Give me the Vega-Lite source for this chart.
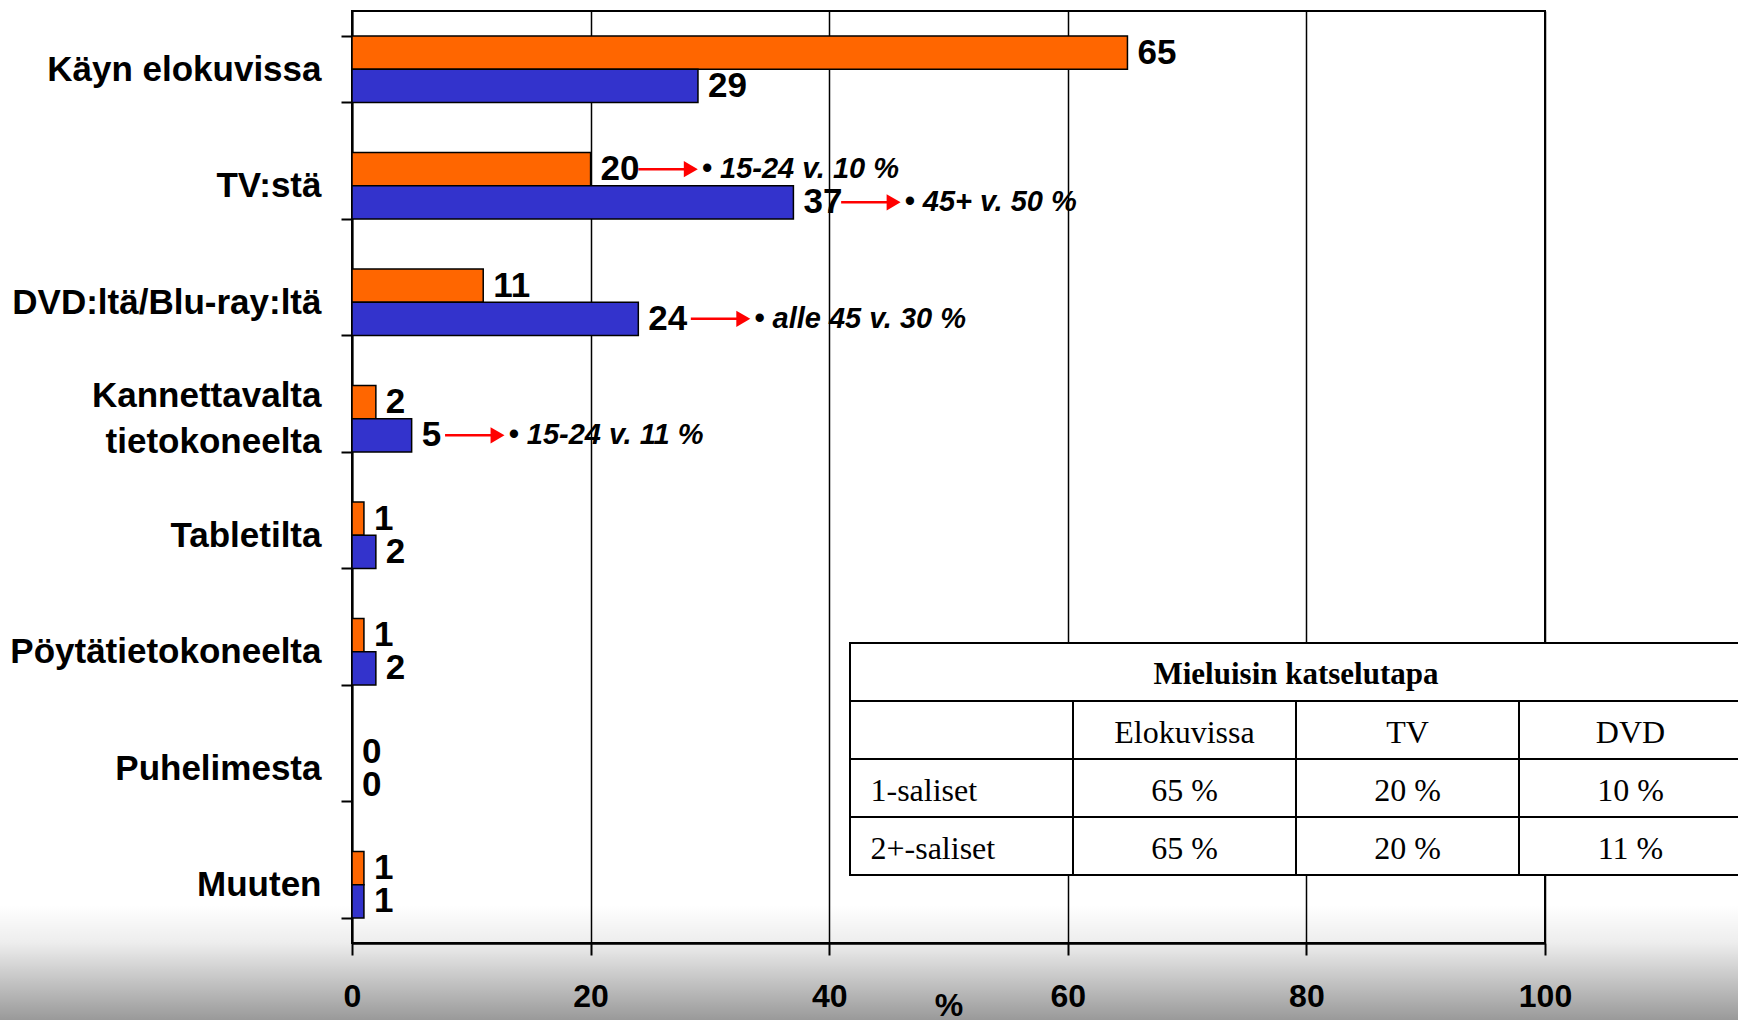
{
  "$schema": "https://vega.github.io/schema/vega-lite/v6.json",
  "width": 1193,
  "height": 932,
  "autosize": {"type": "none"},
  "padding": {"left": 352, "top": 11, "right": 193, "bottom": 77},
  "background": "white",
  "config": {
    "view": {"stroke": "black", "strokeWidth": 2},
    "font": "Liberation Sans"
  },
  "datasets": {
    "pylvaat": [
      {"kategoria": "Käyn elokuvissa", "sarja": "A", "arvo": 65},
      {"kategoria": "Käyn elokuvissa", "sarja": "B", "arvo": 29},
      {"kategoria": "TV:stä", "sarja": "A", "arvo": 20},
      {"kategoria": "TV:stä", "sarja": "B", "arvo": 37},
      {"kategoria": "DVD:ltä/Blu-ray:ltä", "sarja": "A", "arvo": 11},
      {"kategoria": "DVD:ltä/Blu-ray:ltä", "sarja": "B", "arvo": 24},
      {"kategoria": "Kannettavalta tietokoneelta", "sarja": "A", "arvo": 2},
      {"kategoria": "Kannettavalta tietokoneelta", "sarja": "B", "arvo": 5},
      {"kategoria": "Tabletilta", "sarja": "A", "arvo": 1},
      {"kategoria": "Tabletilta", "sarja": "B", "arvo": 2},
      {"kategoria": "Pöytätietokoneelta", "sarja": "A", "arvo": 1},
      {"kategoria": "Pöytätietokoneelta", "sarja": "B", "arvo": 2},
      {"kategoria": "Puhelimesta", "sarja": "A", "arvo": 0},
      {"kategoria": "Puhelimesta", "sarja": "B", "arvo": 0},
      {"kategoria": "Muuten", "sarja": "A", "arvo": 1},
      {"kategoria": "Muuten", "sarja": "B", "arvo": 1}
    ],
    "huomiot": [
      {"kategoria": "TV:stä", "sarja": "A", "alku": 24.0, "loppu": 28.4, "teksti": "• 15-24 v. 10 %"},
      {"kategoria": "TV:stä", "sarja": "B", "alku": 41.0, "loppu": 45.4, "teksti": "• 45+ v. 50 %"},
      {"kategoria": "DVD:ltä/Blu-ray:ltä", "sarja": "B", "alku": 28.4, "loppu": 32.8, "teksti": "• alle 45 v. 30 %"},
      {"kategoria": "Kannettavalta tietokoneelta", "sarja": "B", "alku": 7.8, "loppu": 12.2, "teksti": "• 15-24 v. 11 %"}
    ],
    "taulukko": [
      {"rivi": 1, "sarake": 0, "teksti": ""},
      {"rivi": 1, "sarake": 1, "teksti": "Elokuvissa"},
      {"rivi": 1, "sarake": 2, "teksti": "TV"},
      {"rivi": 1, "sarake": 3, "teksti": "DVD"},
      {"rivi": 2, "sarake": 0, "teksti": "1-saliset"},
      {"rivi": 2, "sarake": 1, "teksti": "65 %"},
      {"rivi": 2, "sarake": 2, "teksti": "20 %"},
      {"rivi": 2, "sarake": 3, "teksti": "10 %"},
      {"rivi": 3, "sarake": 0, "teksti": "2+-saliset"},
      {"rivi": 3, "sarake": 1, "teksti": "65 %"},
      {"rivi": 3, "sarake": 2, "teksti": "20 %"},
      {"rivi": 3, "sarake": 3, "teksti": "11 %"}
    ]
  },
  "layer": [
    {
      "data": {"values": [{}]},
      "mark": {
        "type": "rect",
        "fill": {
          "gradient": "linear", "x1": 0, "y1": 0, "x2": 0, "y2": 1,
          "stops": [
            {"offset": 0, "color": "rgba(0,0,0,0)"},
            {"offset": 0.29, "color": "rgba(0,0,0,0.07)"},
            {"offset": 0.88, "color": "rgba(0,0,0,0.4)"},
            {"offset": 1, "color": "rgba(0,0,0,0.45)"}
          ]
        }
      },
      "encoding": {
        "x": {"datum": -1, "type": "quantitative", "scale": {"domain": [0, 1]}, "axis": null},
        "x2": {"datum": 2},
        "y": {"datum": 0.041, "type": "quantitative", "scale": {"domain": [0, 1]}, "axis": null},
        "y2": {"datum": -0.1}
      }
    },
    {
      "data": {"name": "pylvaat"},
      "layer": [
        {
          "mark": {"type": "bar", "stroke": "black", "strokeWidth": 1.5},
          "encoding": {
            "y": {
              "field": "kategoria", "type": "nominal",
              "sort": ["Käyn elokuvissa", "TV:stä", "DVD:ltä/Blu-ray:ltä", "Kannettavalta tietokoneelta", "Tabletilta", "Pöytätietokoneelta", "Puhelimesta", "Muuten"],
              "scale": {"paddingInner": 0.43, "paddingOuter": 0.215},
              "axis": {
                "title": null, "grid": false, "zindex": 0,
                "domain": true, "domainColor": "black", "domainWidth": 2,
                "ticks": true, "tickBand": "extent", "tickSize": 11, "tickColor": "black", "tickWidth": 2,
                "labelFont": "Liberation Sans", "labelFontSize": 35, "labelFontWeight": "bold", "labelColor": "black",
                "labelPadding": 20, "labelLimit": 0, "labelLineHeight": 46,
                "labelOffset": {"condition": {"test": "datum.value == 'Kannettavalta tietokoneelta'", "value": -23}, "value": 0},
                "labelExpr": "datum.value == 'Kannettavalta tietokoneelta' ? ['Kannettavalta', 'tietokoneelta'] : datum.label"
              }
            },
            "yOffset": {"field": "sarja", "type": "nominal", "sort": ["A", "B"], "scale": {"paddingInner": 0, "paddingOuter": 0}},
            "x": {
              "field": "arvo", "type": "quantitative",
              "scale": {"domain": [0, 100], "nice": false},
              "axis": {
                "orient": "bottom", "values": [0, 20, 40, 60, 80, 100], "zindex": 0,
                "grid": true, "gridColor": "black", "gridWidth": 1.5, "gridOpacity": 1,
                "domain": true, "domainColor": "black", "domainWidth": 2.5,
                "ticks": true, "tickSize": 12, "tickColor": "black", "tickWidth": 2,
                "labelFont": "Liberation Sans", "labelFontSize": 32, "labelFontWeight": "bold", "labelColor": "black",
                "labelPadding": 26, "labelFlush": false, "labelOverlap": false,
                "title": "%", "titleFont": "Liberation Sans", "titleFontSize": 32, "titleFontWeight": "bold", "titleColor": "black",
                "titleY": 47, "titleBaseline": "top"
              }
            },
            "color": {"field": "sarja", "type": "nominal", "scale": {"domain": ["A", "B"], "range": ["#FF6600", "#3333CC"]}, "legend": null}
          }
        },
        {
          "mark": {"type": "text", "align": "left", "baseline": "middle", "dx": 10, "fontSize": 35, "fontWeight": "bold", "color": "black", "font": "Liberation Sans"},
          "encoding": {
            "y": {"field": "kategoria", "type": "nominal", "sort": ["Käyn elokuvissa", "TV:stä", "DVD:ltä/Blu-ray:ltä", "Kannettavalta tietokoneelta", "Tabletilta", "Pöytätietokoneelta", "Puhelimesta", "Muuten"]},
            "yOffset": {"field": "sarja", "type": "nominal", "sort": ["A", "B"]},
            "x": {"field": "arvo", "type": "quantitative"},
            "text": {"field": "arvo", "type": "quantitative"}
          }
        },
        {
          "data": {"name": "huomiot"},
          "mark": {"type": "rule", "color": "#FF0000", "strokeWidth": 2.5},
          "encoding": {
            "y": {"field": "kategoria", "type": "nominal", "sort": ["Käyn elokuvissa", "TV:stä", "DVD:ltä/Blu-ray:ltä", "Kannettavalta tietokoneelta", "Tabletilta", "Pöytätietokoneelta", "Puhelimesta", "Muuten"]},
            "yOffset": {"field": "sarja", "type": "nominal", "sort": ["A", "B"]},
            "x": {"field": "alku", "type": "quantitative"},
            "x2": {"field": "loppu"}
          }
        },
        {
          "data": {"name": "huomiot"},
          "mark": {"type": "point", "shape": "triangle-right", "filled": true, "color": "#FF0000", "size": 260, "opacity": 1},
          "encoding": {
            "y": {"field": "kategoria", "type": "nominal", "sort": ["Käyn elokuvissa", "TV:stä", "DVD:ltä/Blu-ray:ltä", "Kannettavalta tietokoneelta", "Tabletilta", "Pöytätietokoneelta", "Puhelimesta", "Muuten"]},
            "yOffset": {"field": "sarja", "type": "nominal", "sort": ["A", "B"]},
            "x": {"field": "loppu", "type": "quantitative"}
          }
        },
        {
          "data": {"name": "huomiot"},
          "mark": {"type": "text", "align": "left", "baseline": "middle", "dx": 11, "fontSize": 29, "fontWeight": "bold", "fontStyle": "italic", "color": "black", "font": "Liberation Sans"},
          "encoding": {
            "y": {"field": "kategoria", "type": "nominal", "sort": ["Käyn elokuvissa", "TV:stä", "DVD:ltä/Blu-ray:ltä", "Kannettavalta tietokoneelta", "Tabletilta", "Pöytätietokoneelta", "Puhelimesta", "Muuten"]},
            "yOffset": {"field": "sarja", "type": "nominal", "sort": ["A", "B"]},
            "x": {"field": "loppu", "type": "quantitative"},
            "text": {"field": "teksti", "type": "nominal"}
          }
        }
      ]
    },
    {
      "layer": [
        {
          "data": {"name": "taulukko"},
          "mark": {"type": "rect", "width": 223, "height": 58, "fill": "white", "stroke": "black", "strokeWidth": 2},
          "encoding": {
            "x": {"field": "sarake", "type": "quantitative", "scale": {"domain": [-2.7332, 2.6166], "nice": false, "zero": false}, "axis": null},
            "y": {"field": "rivi", "type": "quantitative", "scale": {"domain": [-11.397, 4.672], "nice": false, "zero": false, "reverse": true}, "axis": null}
          }
        },
        {
          "data": {"values": [{"otsikko": "Mieluisin katselutapa"}]},
          "mark": {"type": "rect", "width": 892, "height": 58, "fill": "white", "stroke": "black", "strokeWidth": 2},
          "encoding": {
            "x": {"datum": 1.5, "type": "quantitative", "scale": {"domain": [-2.7332, 2.6166], "nice": false, "zero": false}, "axis": null},
            "y": {"datum": 0, "type": "quantitative", "scale": {"domain": [-11.397, 4.672], "nice": false, "zero": false, "reverse": true}, "axis": null}
          }
        },
        {
          "data": {"values": [{"otsikko": "Mieluisin katselutapa"}]},
          "mark": {"type": "text", "align": "center", "baseline": "middle", "dy": 3, "font": "Liberation Serif", "fontSize": 31, "fontWeight": "bold", "color": "black"},
          "encoding": {
            "x": {"datum": 1.5, "type": "quantitative", "scale": {"domain": [-2.7332, 2.6166], "nice": false, "zero": false}, "axis": null},
            "y": {"datum": 0, "type": "quantitative", "scale": {"domain": [-11.397, 4.672], "nice": false, "zero": false, "reverse": true}, "axis": null},
            "text": {"field": "otsikko", "type": "nominal"}
          }
        },
        {
          "data": {"name": "taulukko"},
          "transform": [{"filter": "datum.sarake > 0"}],
          "mark": {"type": "text", "align": "center", "baseline": "middle", "dy": 3, "font": "Liberation Serif", "fontSize": 32, "color": "black"},
          "encoding": {
            "x": {"field": "sarake", "type": "quantitative", "scale": {"domain": [-2.7332, 2.6166], "nice": false, "zero": false}, "axis": null},
            "y": {"field": "rivi", "type": "quantitative", "scale": {"domain": [-11.397, 4.672], "nice": false, "zero": false, "reverse": true}, "axis": null},
            "text": {"field": "teksti", "type": "nominal"}
          }
        },
        {
          "data": {"name": "taulukko"},
          "transform": [{"filter": "datum.sarake == 0"}],
          "mark": {"type": "text", "align": "left", "baseline": "middle", "dx": -91, "dy": 3, "font": "Liberation Serif", "fontSize": 32, "color": "black"},
          "encoding": {
            "x": {"field": "sarake", "type": "quantitative", "scale": {"domain": [-2.7332, 2.6166], "nice": false, "zero": false}, "axis": null},
            "y": {"field": "rivi", "type": "quantitative", "scale": {"domain": [-11.397, 4.672], "nice": false, "zero": false, "reverse": true}, "axis": null},
            "text": {"field": "teksti", "type": "nominal"}
          }
        }
      ]
    }
  ],
  "resolve": {"scale": {"x": "independent", "y": "independent", "color": "independent"}}
}
